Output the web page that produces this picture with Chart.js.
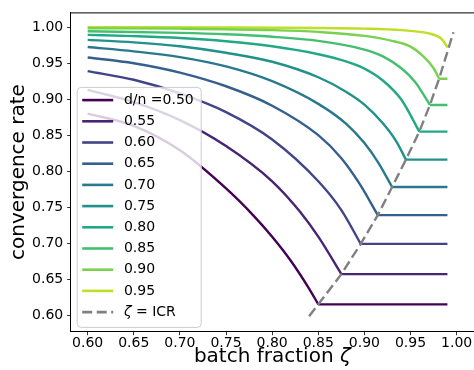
<!DOCTYPE html>
<html>
<head>
<meta charset="utf-8">
<script src="https://cdn.jsdelivr.net/npm/chart.js@4.4.0/dist/chart.umd.min.js"></script>
<style>
  html, body { margin: 0; padding: 0; background: #fff; }
  #wrap { width: 474px; height: 370px; }
</style>
</head>
<body>
<div id="wrap"><canvas id="rateChart"></canvas></div>
<script>
// d/n 各條曲線
const dnValues = ['0.50', '0.55', '0.60', '0.65', '0.70', '0.75', '0.80', '0.85', '0.90', '0.95'];
const lineColors = ['#440154', '#482475', '#414487', '#355f8d', '#2a788e',
                    '#21918c', '#22a884', '#44bf70', '#7ad151', '#bddf26'];

// 批次比例 ζ 與收斂率 (從圖上讀的)
const zeta_050 = [0.60, 0.65, 0.70, 0.75, 0.78, 0.80, 0.82, 0.84, 0.85];
const rate_050 = [0.880, 0.863, 0.829, 0.776, 0.738, 0.709, 0.676, 0.637, 0.615];
const zeta_055 = [0.60, 0.65, 0.70, 0.75, 0.80, 0.83, 0.85, 0.875];
const rate_055 = [0.913, 0.896, 0.871, 0.835, 0.786, 0.744, 0.709, 0.657];
const zeta_060 = [0.60, 0.65, 0.70, 0.75, 0.80, 0.85, 0.875, 0.896];
const rate_060 = [0.939, 0.927, 0.908, 0.882, 0.844, 0.786, 0.746, 0.699];
const zeta_065 = [0.60, 0.65, 0.70, 0.75, 0.80, 0.85, 0.875, 0.895, 0.9145];
const rate_065 = [0.958, 0.950, 0.937, 0.918, 0.891, 0.850, 0.818, 0.782, 0.739];
const zeta_070 = [0.60, 0.65, 0.70, 0.75, 0.80, 0.85, 0.88, 0.90, 0.915, 0.930];
const rate_070 = [0.9725, 0.9665, 0.9585, 0.9455, 0.925, 0.8935, 0.866, 0.839, 0.812, 0.778];
const zeta_075 = [0.60, 0.65, 0.70, 0.75, 0.80, 0.85, 0.88, 0.90, 0.92, 0.935, 0.945];
const rate_075 = [0.9825, 0.979, 0.9735, 0.9645, 0.952, 0.9305, 0.9105, 0.8925, 0.8665, 0.8405, 0.816];
const zeta_080 = [0.60, 0.65, 0.70, 0.75, 0.80, 0.85, 0.88, 0.90, 0.92, 0.94, 0.9595];
const rate_080 = [0.9894, 0.9876, 0.985, 0.9805, 0.9735, 0.9625, 0.9525, 0.9425, 0.926, 0.8995, 0.855];
const zeta_085 = [0.60, 0.70, 0.75, 0.80, 0.85, 0.90, 0.92, 0.94, 0.955, 0.971];
const rate_085 = [0.9945, 0.9922, 0.9902, 0.9868, 0.981, 0.969, 0.9595, 0.943, 0.924, 0.892];
const zeta_090 = [0.60, 0.70, 0.80, 0.85, 0.90, 0.93, 0.95, 0.965, 0.975, 0.981];
const rate_090 = [0.9986, 0.998, 0.996, 0.9935, 0.988, 0.981, 0.973, 0.958, 0.943, 0.9285];
const zeta_095 = [0.60, 0.75, 0.85, 0.90, 0.94, 0.96, 0.97, 0.98, 0.985, 0.99];
const rate_095 = [1.000, 0.9997, 0.999, 0.998, 0.996, 0.9935, 0.9915, 0.987, 0.982, 0.972];

// 平的部分一直畫到 ζ = 0.99
const flatEnd = 0.99;

// ζ = ICR 虛線
const zeta_icr = [0.84, 0.85, 0.875, 0.896, 0.9145, 0.930, 0.945, 0.9595, 0.971, 0.981, 0.9905, 0.9965];
const rate_icr = [0.5986, 0.615, 0.657, 0.699, 0.739, 0.778, 0.816, 0.855, 0.892, 0.9285, 0.968, 0.993];

// 座標軸刻度
const xTicks = [0.60, 0.65, 0.70, 0.75, 0.80, 0.85, 0.90, 0.95, 1.00];
const yTicks = [0.60, 0.65, 0.70, 0.75, 0.80, 0.85, 0.90, 0.95, 1.00];

const curves = [
    [zeta_050, rate_050], [zeta_055, rate_055], [zeta_060, rate_060], [zeta_065, rate_065],
    [zeta_070, rate_070], [zeta_075, rate_075], [zeta_080, rate_080], [zeta_085, rate_085],
    [zeta_090, rate_090], [zeta_095, rate_095]
];

const FONT = 'DejaVu Sans';
const datasets = [];

curves.forEach(([zs, rs], i) => {
    datasets.push({
        data: zs.map((z, k) => ({ x: z, y: rs[k] })),
        borderColor: lineColors[i],
        borderWidth: 2.4,
        pointRadius: 0,
        cubicInterpolationMode: 'monotone',
        order: 1
    });
    const lastZ = zs[zs.length - 1];
    const lastR = rs[rs.length - 1];
    if (lastZ < flatEnd) {
        datasets.push({
            data: [{ x: lastZ, y: lastR }, { x: flatEnd, y: lastR }],
            borderColor: lineColors[i],
            borderWidth: 2.4,
            pointRadius: 0,
            tension: 0,
            order: 1
        });
    }
});

datasets.push({
    data: zeta_icr.map((z, k) => ({ x: z, y: rate_icr[k] })),
    borderColor: '#808080',
    borderWidth: 2.4,
    borderDash: [10, 4.5],
    pointRadius: 0,
    tension: 0,
    order: 0
});

// 上邊框、x 軸標題、圖例
const framePlugin = {
    id: 'framePlugin',
    afterDatasetsDraw(chart) {
        const c = chart.ctx;
        const a = chart.chartArea;
        c.save();
        c.strokeStyle = '#000';
        c.lineWidth = 1;
        c.beginPath();
        c.moveTo(a.left, a.top + 0.5);
        c.lineTo(a.right, a.top + 0.5);
        c.stroke();

        // x 軸標題 (ζ 用斜體)
        c.fillStyle = '#000';
        c.textBaseline = 'middle';
        c.textAlign = 'left';
        const t1 = 'batch fraction ';
        c.font = '20px "' + FONT + '"';
        const w1 = c.measureText(t1).width;
        c.font = 'italic 20px "' + FONT + '"';
        const w2 = c.measureText('ζ').width;
        const cx = (a.left + a.right) / 2;
        const ty = chart.height - 13;
        c.font = '20px "' + FONT + '"';
        c.fillText(t1, cx - (w1 + w2) / 2, ty);
        c.font = 'italic 20px "' + FONT + '"';
        c.fillText('ζ', cx - (w1 + w2) / 2 + w1, ty);

        // 圖例框
        const bx = a.left + 6.5, by = a.top + 75, bw = 124, bh = 240;
        c.beginPath();
        c.roundRect(bx, by, bw, bh, 4);
        c.fillStyle = 'rgba(255,255,255,0.8)';
        c.fill();
        c.strokeStyle = '#cccccc';
        c.lineWidth = 1;
        c.stroke();

        const rowH = 21.2;
        const y0 = by + 12.7;
        const hx0 = bx + 5, hx1 = bx + 36, tx = bx + 46.7;
        c.font = '14px "' + FONT + '"';
        dnValues.forEach((v, i) => {
            const y = y0 + i * rowH;
            c.strokeStyle = lineColors[i];
            c.lineWidth = 2.6;
            c.setLineDash([]);
            c.beginPath();
            c.moveTo(hx0, y);
            c.lineTo(hx1, y);
            c.stroke();
            c.fillStyle = '#000';
            c.fillText(i === 0 ? 'd/n =' + v : v, tx, y);
        });
        const yi = y0 + dnValues.length * rowH;
        c.strokeStyle = '#808080';
        c.lineWidth = 2.6;
        c.setLineDash([10, 4.5]);
        c.beginPath();
        c.moveTo(hx0, yi);
        c.lineTo(hx1, yi);
        c.stroke();
        c.setLineDash([]);
        c.fillStyle = '#000';
        c.font = 'italic 14px "' + FONT + '"';
        c.fillText('ζ', tx, yi);
        const w = c.measureText('ζ').width;
        c.font = '14px "' + FONT + '"';
        c.fillText(' = ICR', tx + w, yi);
        c.restore();
    }
};

const ctx = document.getElementById('rateChart').getContext('2d');
const rateChart = new Chart(ctx, {
    type: 'line',
    data: { datasets: datasets },
    options: {
        responsive: true,
        maintainAspectRatio: false,
        animation: false,
        devicePixelRatio: 1,
        layout: { padding: 0 },
        plugins: {
            legend: { display: false },
            tooltip: { enabled: false }
        },
        scales: {
            x: {
                type: 'linear',
                min: 0.5816,
                max: 1.0188,
                afterBuildTicks: (s) => { s.ticks = xTicks.map(v => ({ value: v })); },
                afterFit: (s) => { s.height = 38.3; },
                grid: { display: true, drawOnChartArea: false, drawTicks: true, tickLength: 3.5, color: '#000', lineWidth: 0.8 },
                border: { display: true, color: '#000', width: 1 },
                ticks: {
                    color: '#000',
                    padding: 0,
                    maxRotation: 0,
                    autoSkip: false,
                    font: { family: FONT, size: 14 },
                    callback: (v) => Number(v).toFixed(2)
                },
                title: { display: false }
            },
            y: {
                type: 'linear',
                min: 0.577,
                max: 1.0206,
                afterBuildTicks: (s) => { s.ticks = yTicks.map(v => ({ value: v })); },
                afterFit: (s) => { s.width = 70.7; },
                grid: { display: true, drawOnChartArea: false, drawTicks: true, tickLength: 3.5, color: '#000', lineWidth: 0.8 },
                border: { display: true, color: '#000', width: 1 },
                ticks: {
                    color: '#000',
                    padding: 4,
                    autoSkip: false,
                    font: { family: FONT, size: 14 },
                    callback: (v) => Number(v).toFixed(2)
                },
                title: {
                    display: true,
                    text: 'convergence rate',
                    color: '#000',
                    font: { family: FONT, size: 20 },
                    padding: { top: 7, bottom: 0 }
                }
            }
        }
    },
    plugins: [framePlugin]
});
</script>
</body>
</html>
